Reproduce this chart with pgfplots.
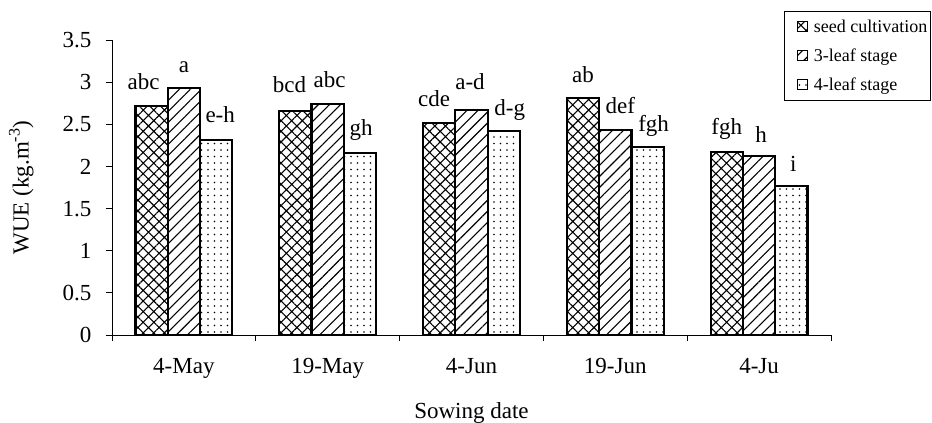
\documentclass[border=0pt]{standalone}
\usepackage{fontspec}
\setmainfont{Liberation Serif}
\usepackage{pgfplots}
\usepackage{pgfplotstable}
\pgfplotsset{compat=1.18}
\usetikzlibrary{patterns.meta}

\pgfplotstableread{
x y lab dx dy
0.5 2.72 abc -8 16
1.5 2.66 bcd -6 18
2.5 2.52 cde -5 16
3.5 2.81 ab 0 16
4.5 2.17 fgh 0 18
}\seed
\pgfplotstableread{
x y lab dx dy
0.5 2.93 a 0 16
1.5 2.74 abc 2 17
2.5 2.67 a-d -1.5 20
3.5 2.43 def 5 17
4.5 2.12 h 2 14
}\three
\pgfplotstableread{
x y lab dx dy
0.5 2.31 e-h 4 18
1.5 2.16 gh 1 17
2.5 2.42 d-g 6 16
3.5 2.23 fgh 6 16
4.5 1.77 i 2 14
}\four

\begin{document}
\begin{tikzpicture}
\useasboundingbox (-112bp,-88bp) rectangle (820bp,335bp);
\begin{axis}[
  at={(0,0)}, anchor=south west,
  scale only axis, width=719bp, height=295bp,
  xmin=0, xmax=5, ymin=0, ymax=3.5,
  axis x line*=bottom, axis y line*=left,
  axis line style={line width=0.8bp},
  ybar=0pt, bar width=32.3bp,
  xtick={0.5,1.5,2.5,3.5,4.5},
  xticklabels={4-May,19-May,4-Jun,19-Jun,4-Ju},
  major x tick style={draw=none},
  minor xtick={0,1,2,3,4,5},
  ytick={0,0.5,1,1.5,2,2.5,3,3.5},
  tick align=outside,
  major tick length=6bp, minor tick length=6bp,
  tick style={black, line width=0.8bp},
  /pgf/number format/assume math mode=true,
  tick label style={font=\fontsize{23bp}{27bp}\selectfont},
  xticklabel style={yshift=-14bp},
  yticklabel style={xshift=-11bp},
  label style={font=\fontsize{23bp}{27bp}\selectfont},
  xlabel={Sowing date},
  xlabel style={at={(axis description cs:0.5,-0.2814)}, anchor=base},
  ylabel={WUE (kg.m\textsuperscript{-3})},
  ylabel style={at={(axis description cs:-0.116,0.5)}, anchor=base},
  point meta=explicit symbolic,
  nodes near coords,
  visualization depends on={\thisrow{dx} \as \dx},
  visualization depends on={\thisrow{dy} \as \dy},
  every node near coord/.append style={font=\fontsize{23bp}{27bp}\selectfont, anchor=base, xshift=\dx bp, yshift=\dy bp, black},
  legend style={at={(1,1)}, anchor=north east, xshift=99.7bp, yshift=29.3bp,
    draw=black, line width=0.8bp, font=\fontsize{18bp}{21bp}\selectfont,
    row sep=11bp, inner xsep=2bp, inner ysep=6.5bp, nodes={inner xsep=1bp}},
  legend cell align=left,
  legend image code/.code={\path (0bp,0bp) (24bp,0bp); \draw[#1, line width=0.8bp] (10bp,-5bp) rectangle (20bp,5bp);},
]
\addplot[draw=black, line width=2.2bp, fill=white, postaction={pattern={Hatch[angle=45, distance=7.5bp, line width=1.1bp]}}] table[x=x, y=y, meta=lab] {\seed};
\addplot[draw=black, line width=2.2bp, fill=white, postaction={pattern={Lines[angle=45, distance=7.8bp, line width=1.1bp]}}] table[x=x, y=y, meta=lab] {\three};
\addplot[draw=black, line width=2.2bp, fill=white, postaction={pattern={Dots[distance=6.5bp, radius=0.95bp]}}] table[x=x, y=y, meta=lab] {\four};
\legend{seed cultivation, 3-leaf stage, 4-leaf stage}
\end{axis}
\end{tikzpicture}
\end{document}
